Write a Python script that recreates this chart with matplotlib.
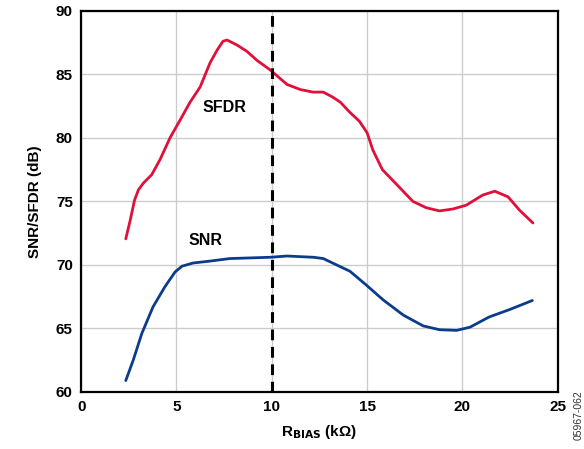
import matplotlib
matplotlib.use("Agg")
import matplotlib.pyplot as plt
import numpy as np

plt.rcParams['font.family'] = ['Liberation Sans', 'DejaVu Sans']

sfdr_x = [2.34, 2.57, 2.80, 3.0, 3.27, 3.7, 4.14, 4.66, 5.19, 5.71, 6.24, 6.76, 7.13, 7.44, 7.65,
          8.18, 8.70, 9.22, 9.91, 10.8, 11.5, 12.16, 12.7, 13.2, 13.6, 14.1, 14.6, 15.0, 15.3,
          15.8, 16.7, 17.4, 18.1, 18.8, 19.5, 20.2, 21.07, 21.7, 22.4, 23.0, 23.7]
sfdr_y = [72.05, 73.5, 75.1, 75.9, 76.45, 77.1, 78.3, 80.0, 81.4, 82.8, 84.0, 85.9, 86.9, 87.6, 87.7,
          87.3, 86.8, 86.1, 85.35, 84.2, 83.8, 83.6, 83.6, 83.2, 82.8, 82.0, 81.3, 80.4, 79.05,
          77.5, 76.1, 75.0, 74.5, 74.25, 74.4, 74.7, 75.5, 75.8, 75.35, 74.3, 73.3]

snr_x = [2.34, 2.73, 3.18, 3.77, 4.40, 4.93, 5.29, 5.87, 6.76, 7.8, 9.91, 10.8, 12.2, 12.7,
         13.05, 14.1, 14.97, 15.84, 16.9, 17.94, 18.8, 19.7, 20.4, 21.4, 22.5, 23.67]
snr_y = [60.9, 62.5, 64.6, 66.7, 68.3, 69.45, 69.9, 70.15, 70.3, 70.5, 70.6, 70.7, 70.6, 70.5,
         70.25, 69.5, 68.4, 67.25, 66.05, 65.2, 64.9, 64.85, 65.1, 65.9, 66.5, 67.2]

xticks = [0, 5, 10, 15, 20, 25]
yticks = [60, 65, 70, 75, 80, 85, 90]
marker_x = 10

fig = plt.figure(figsize=(5.84, 4.49), dpi=100)
ax = fig.add_axes([0.139, 0.127, 0.816, 0.849])

ax.plot(sfdr_x, sfdr_y, color='#E0103A', lw=2.0, zorder=3, solid_joinstyle='round', solid_capstyle='round')
ax.plot(snr_x, snr_y, color='#0B3C8C', lw=2.0, zorder=3, solid_joinstyle='round', solid_capstyle='round')
ax.axvline(marker_x, color='black', lw=2.2, ls=(0, (3.5, 2.2)), zorder=4)

ax.set_xlim(0, 25)
ax.set_ylim(60, 90)
ax.set_xticks(xticks)
ax.set_yticks(yticks)
ax.grid(True, color='#cccccc', lw=1.0)
ax.set_axisbelow(True)
for s in ax.spines.values():
    s.set_linewidth(1.6)
    s.set_color('black')
ax.tick_params(length=0, labelsize=11, pad=6)
for lab in ax.get_xticklabels() + ax.get_yticklabels():
    lab.set_fontweight('bold')

ax.text(7.5, 82.4, 'SFDR', fontsize=11.5, fontweight='bold', ha='center', va='center')
ax.text(6.5, 71.9, 'SNR', fontsize=11.5, fontweight='bold', ha='center', va='center')

ax.set_xlabel(r'R$_{\mathbf{BIAS}}$ (kΩ)', fontsize=11, fontweight='bold', labelpad=6)
ax.set_ylabel('SNR/SFDR (dB)', fontsize=11, fontweight='bold', labelpad=10)

fig.text(0.99, 0.02, '05967-062', rotation=90, fontsize=7.5, ha='center', va='bottom', color='#333333')

fig.savefig('out.png', dpi=100)
